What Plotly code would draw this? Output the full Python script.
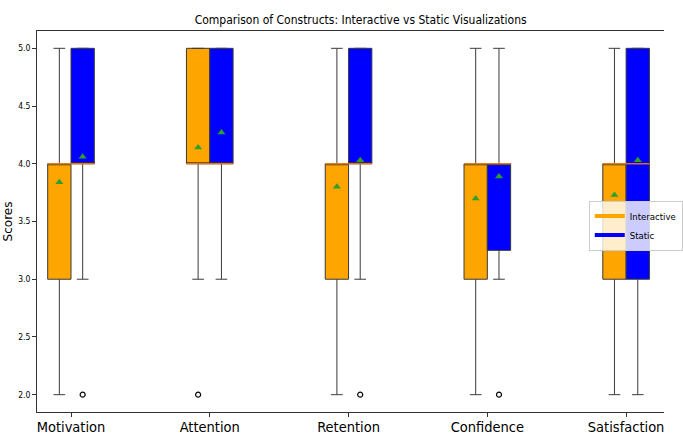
import plotly.graph_objects as go

# Constructs compared on the x axis
constructs = ["Motivation", "Attention", "Retention", "Confidence", "Satisfaction"]

# Five-number summaries, means and outliers for the interactive condition
inter_q1 = [3, 4, 3, 3, 3]
inter_med = [4, 4, 4, 4, 4]
inter_q3 = [4, 5, 4, 4, 4]
inter_lo = [2, 3, 2, 2, 2]
inter_hi = [5, 5, 5, 5, 5]
inter_mean = [3.84, 4.14, 3.80, 3.70, 3.73]
inter_out = [[], [2], [], [], []]

# Same summaries for the static condition
static_q1 = [4, 4, 4, 3.25, 3]
static_med = [4, 4, 4, 4, 4]
static_q3 = [5, 5, 5, 4, 5]
static_lo = [3, 3, 3, 3, 2]
static_hi = [5, 5, 5, 5, 5]
static_mean = [4.06, 4.27, 4.03, 3.89, 4.03]
static_out = [[2], [], [2], [2], []]

y_ticks = [2.0, 2.5, 3.0, 3.5, 4.0, 4.5, 5.0]

OFFSET = 0.084
BOX_W = 0.168
EDGE = "#3a3a3a"
MEDIAN_C = "#ff7f0e"
MEAN_C = "#2ca02c"
FONT = "DejaVu Sans Condensed, DejaVu Sans"

fig = go.Figure()


def add_group(pos, q1, med, q3, lo, hi, mean, outs, fill):
    fig.add_trace(go.Box(
        x=pos, q1=q1, median=med, q3=q3, lowerfence=lo, upperfence=hi,
        width=BOX_W, whiskerwidth=0.5, fillcolor=fill,
        line=dict(color=EDGE, width=1), boxpoints=False,
        showlegend=False, hoverinfo="skip",
    ))
    # median segments drawn over the box outline
    mx, my = [], []
    for p, m in zip(pos, med):
        mx += [p - BOX_W / 2, p + BOX_W / 2, None]
        my += [m, m, None]
    fig.add_trace(go.Scatter(x=mx, y=my, mode="lines",
                             line=dict(color=MEDIAN_C, width=1.2),
                             showlegend=False, hoverinfo="skip"))
    # means
    fig.add_trace(go.Scatter(x=pos, y=mean, mode="markers",
                             marker=dict(symbol="triangle-up", size=7, color=MEAN_C),
                             showlegend=False, hoverinfo="skip"))
    # outliers
    ox, oy = [], []
    for p, vals in zip(pos, outs):
        for v in vals:
            ox.append(p)
            oy.append(v)
    fig.add_trace(go.Scatter(x=ox, y=oy, mode="markers",
                             marker=dict(symbol="circle-open", size=5,
                                         color="black", line=dict(width=1.2)),
                             showlegend=False, hoverinfo="skip"))


idx = list(range(len(constructs)))
add_group([i - OFFSET for i in idx], inter_q1, inter_med, inter_q3,
          inter_lo, inter_hi, inter_mean, inter_out, "#FFA500")
add_group([i + OFFSET for i in idx], static_q1, static_med, static_q3,
          static_lo, static_hi, static_mean, static_out, "#0000FF")

# legend entries
fig.add_trace(go.Scatter(x=[None], y=[None], mode="lines", name="Interactive",
                         line=dict(color="#FFA500", width=4)))
fig.add_trace(go.Scatter(x=[None], y=[None], mode="lines", name="Static",
                         line=dict(color="#0000FF", width=4)))

fig.update_layout(
    width=683, height=434,
    margin=dict(l=37, r=0, t=31, b=22),
    paper_bgcolor="white", plot_bgcolor="white",
    boxmode="overlay",
    title=dict(text="Comparison of Constructs: Interactive vs Static Visualizations",
               x=0.528, xanchor="center", y=0.955, yanchor="middle",
               font=dict(family=FONT, size=12, color="black")),
    legend=dict(x=0.88, y=0.555, xanchor="left", yanchor="top",
                bgcolor="rgba(255,255,255,0.8)", bordercolor="#cccccc", borderwidth=1,
                font=dict(family=FONT, size=9.5, color="black"),
                itemwidth=30, tracegroupgap=0),
    showlegend=True,
)

fig.update_xaxes(
    range=[-0.245, 4.273], tickmode="array", tickvals=idx, ticktext=constructs,
    tickfont=dict(family=FONT, size=14.5, color="black"),
    showgrid=False, zeroline=False, showline=True, linecolor="#333", linewidth=1,
    mirror=True, ticks="outside", ticklen=4, tickcolor="#333", automargin=False,
    ticklabelstandoff=-2,
)
fig.update_yaxes(
    range=[1.85, 5.15], tickmode="array", tickvals=y_ticks,
    ticktext=[f"{v:.1f}" for v in y_ticks],
    tickfont=dict(family=FONT, size=8.5, color="black"),
    showgrid=False, zeroline=False, showline=True, linecolor="#333", linewidth=1,
    ticks="outside", ticklen=4, tickcolor="#333", automargin=False,
    title=dict(text="Scores", font=dict(family="DejaVu Sans", size=12, color="black"),
               standoff=2),
)

fig.write_html("out.html")
